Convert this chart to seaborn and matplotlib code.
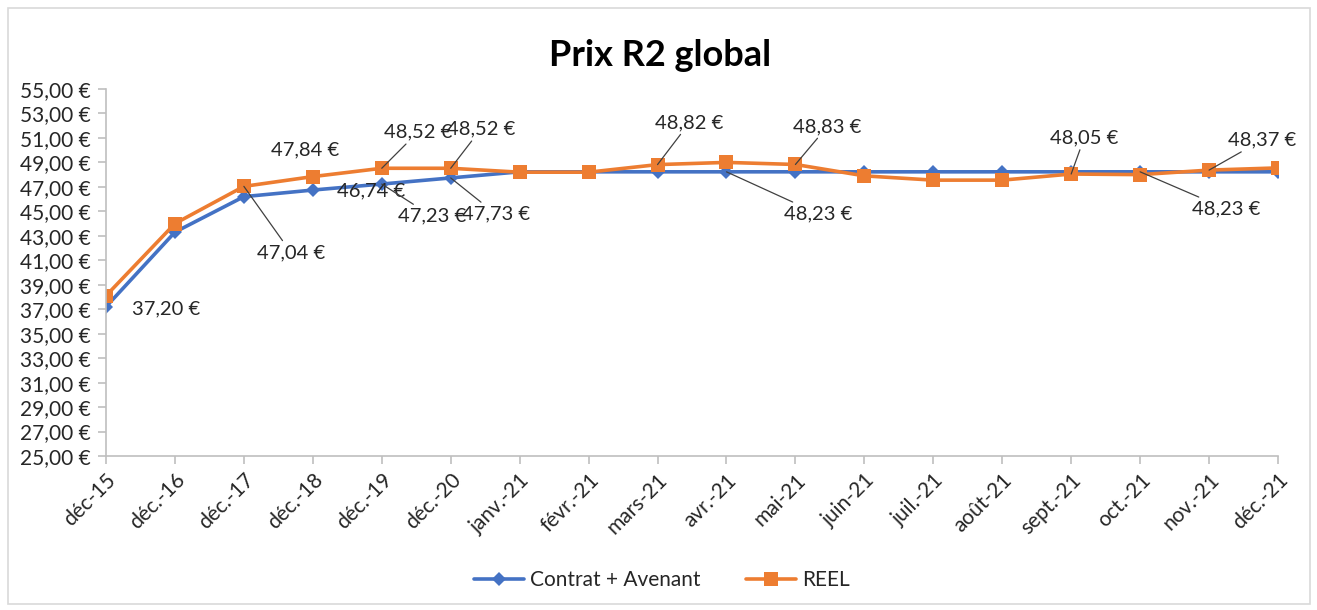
import matplotlib
matplotlib.use("Agg")
import matplotlib.pyplot as plt
import seaborn as sns
import pandas as pd
from matplotlib.patches import Rectangle

categories = ["déc-15", "déc.-16", "déc.-17", "déc.-18", "déc.-19", "déc.-20",
              "janv.-21", "févr.-21", "mars-21", "avr.-21", "mai-21", "juin-21",
              "juil.-21", "août-21", "sept.-21", "oct.-21", "nov.-21", "déc.-21"]
contrat = [37.20, 43.30, 46.20, 46.74, 47.23, 47.73, 48.23, 48.23, 48.23, 48.23,
           48.23, 48.23, 48.23, 48.23, 48.23, 48.23, 48.23, 48.23]
reel = [38.10, 44.00, 47.04, 47.84, 48.52, 48.52, 48.20, 48.20, 48.82, 49.00,
        48.83, 47.90, 47.55, 47.55, 48.05, 48.00, 48.37, 48.55]
series_names = ["Contrat + Avenant", "REEL"]
yticks = list(range(25, 56, 2))

# labels: (series, index, text offset px (dx, dy up), leader)
labels = [
    (0, 0, (60, -2), False),
    (1, 2, (47, -66), True),
    (1, 3, (-8, 27), False),
    (0, 3, (58, -1), False),
    (1, 4, (36, 36), True),
    (0, 4, (50, -32), True),
    (1, 5, (30, 39), True),
    (0, 5, (45, -36), True),
    (1, 8, (32, 42), True),
    (0, 9, (92, -42), True),
    (1, 10, (32, 38), True),
    (1, 14, (13, 36), True),
    (0, 15, (86, -37), True),
    (1, 16, (53, 30), True),
]

sns.set_theme(style="white")
plt.rcParams["font.family"] = ["Lato", "DejaVu Sans"]

fig = plt.figure(figsize=(13.17, 6.10), dpi=100)
ax = fig.add_axes([106/1317, 1-456/610, (1278-106)/1317, (456-89)/610])

df = pd.DataFrame({
    "x": list(range(len(categories))) * 2,
    "val": contrat + reel,
    "serie": [series_names[0]] * len(categories) + [series_names[1]] * len(categories),
})
blue = "#4472C4"
orange = "#ED7D31"
sns.lineplot(data=df, x="x", y="val", hue="serie", style="serie",
             markers={series_names[0]: "D", series_names[1]: "s"},
             dashes=False, palette={series_names[0]: blue, series_names[1]: orange},
             markersize=9, linewidth=2.6, markeredgewidth=0, ax=ax, legend=True)
for line in ax.lines:
    if line.get_marker() == "D":
        line.set_markersize(7.5)
    elif line.get_marker() == "s":
        line.set_markersize(10.5)

ax.set_xlim(0, len(categories) - 1)
ax.set_ylim(25, 55)
ax.set_yticks(yticks)
ax.set_yticklabels([f"{v},00\u00a0€" for v in yticks], fontsize=15)
ax.set_xticks(range(len(categories)))
ax.set_xticklabels(categories, rotation=45, ha="right", rotation_mode="anchor", fontsize=15)
ax.set_xlabel("")
ax.set_ylabel("")
for s in ["top", "right"]:
    ax.spines[s].set_visible(False)
for s in ["left", "bottom"]:
    ax.spines[s].set_color("#BFBFBF")
    ax.spines[s].set_linewidth(1.2)
ax.tick_params(axis="both", which="both", length=6, color="#BFBFBF", width=1.2,
               direction="out", left=True, bottom=True, labelcolor="#262626")
ax.tick_params(axis="x", pad=4)
ax.tick_params(axis="y", pad=5)

data = [contrat, reel]
for s, i, (dx, dy), leader in labels:
    v = data[s][i]
    txt = f"{v:.2f}".replace(".", ",") + "\u00a0€"
    ax.annotate(txt, xy=(i, v), xytext=(dx, dy), textcoords="offset pixels",
                ha="center", va="center", fontsize=14.5, color="#262626",
                arrowprops=dict(arrowstyle="-", color="#404040", lw=0.9,
                                shrinkA=0, shrinkB=0) if leader else None)

handles, lbls = ax.get_legend_handles_labels()
ax.legend(handles, lbls, loc="center", bbox_to_anchor=(662/1317, 1-580/610),
          bbox_transform=fig.transFigure, ncol=2, frameon=False, fontsize=15,
          handlelength=2.4, handletextpad=0.3, columnspacing=2.2)

fig.text(660/1317, 1-55/610, "Prix R2 global", ha="center", va="center",
         fontsize=26, fontweight="bold", color="black")
fig.patches.append(Rectangle((8/1317, 1-604/610), (1310-8)/1317, (604-8)/610,
                             transform=fig.transFigure, fill=False,
                             edgecolor="#D9D9D9", linewidth=1.2))
fig.savefig("out.png", dpi=100)
